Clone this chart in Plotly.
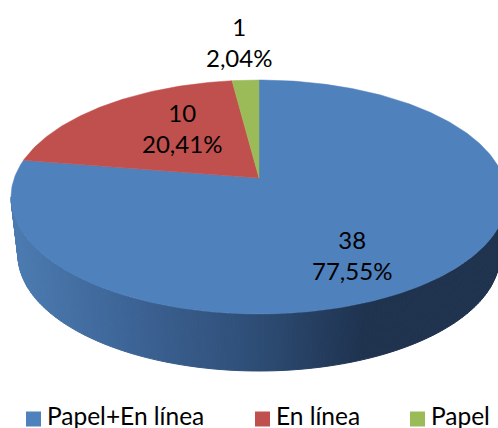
import numpy as np
import plotly.graph_objects as go

categories = ["Papel+En línea", "En línea", "Papel"]
values = [38, 10, 1]
colors = ["#4F81BD", "#C0504D", "#9BBB59"]

W, H = 498, 428
FONT = "Lato"
LABEL_SIZE = 24
LEGEND_SIZE = 24.5
LABEL_POS = [(352, 255), (182, 128), (239, 42)]
LEGEND_X = [33.5, 262.5, 417.5]
LEGEND_Y = 419

# perspective projection of the pie disc to the page
CX, CY = 259, 178
A, C, K = 244.7, 113.9, 0.1624

def project(theta):
    x, y = np.sin(theta), np.cos(theta)
    d = 1 + K * y
    return CX + A * x / d, CY - C * y / d

fig = go.Figure()

# side wall, shaded from left to right
stops = [(12, (76, 124, 178)), (130, (61, 100, 150)), (250, (47, 79, 120)),
         (365, (31, 51, 80)), (498, (32, 52, 79))]
t = np.linspace(np.pi, 0, 161)
tx, ty = 259 + 248 * np.cos(t), 197 + 117 * np.sin(t)
bx, by = 259 + 241 * np.cos(t), 255 + 116 * np.sin(t)
for i in range(len(t) - 1):
    mid = (tx[i] + tx[i + 1]) / 2
    rgb = [np.interp(mid, [s[0] for s in stops], [s[1][c] for s in stops]) for c in range(3)]
    col = "rgb(%d,%d,%d)" % tuple(rgb)
    fig.add_trace(go.Scatter(
        x=[tx[i], tx[i + 1], bx[i + 1], bx[i], tx[i]],
        y=[ty[i], ty[i + 1], by[i + 1], by[i], ty[i]],
        mode="lines", fill="toself", fillcolor=col, line=dict(color=col, width=1),
        hoverinfo="skip", showlegend=False))

# top faces
total = sum(values)
start = 0.0
for name, v, col in zip(categories, values, colors):
    end = start + v / total
    th = np.linspace(start, end, max(int(v * 8), 12)) * 2 * np.pi
    px, py = project(th)
    fig.add_trace(go.Scatter(
        x=np.r_[CX, px, CX], y=np.r_[CY, py, CY],
        mode="lines", fill="toself", fillcolor=col, line=dict(color=col, width=0.5),
        name=name, showlegend=False))
    start = end

# legend entries
for name, col, lx in zip(categories, colors, LEGEND_X):
    fig.add_trace(go.Scatter(
        x=[lx], y=[LEGEND_Y], mode="markers+text", name=name, showlegend=False,
        text=["\u2009" + name], textposition="middle right", cliponaxis=False,
        textfont=dict(family=FONT, size=LEGEND_SIZE, color="#000000"),
        marker=dict(symbol="square", size=15, color=col)))

# data labels
for v, (lx, ly) in zip(values, LABEL_POS):
    pct = f"{100 * v / total:.2f}".replace(".", ",") + "%"
    fig.add_annotation(x=lx, y=ly, text=f"{v}<br>{pct}", showarrow=False,
                       font=dict(family=FONT, size=LABEL_SIZE, color="#000000"))

fig.update_layout(
    width=W, height=H, margin=dict(l=0, r=0, t=0, b=0),
    paper_bgcolor="white", plot_bgcolor="white", showlegend=False,
    font=dict(family=FONT, size=LABEL_SIZE, color="#000000"),
    xaxis=dict(range=[0, W], visible=False, fixedrange=True),
    yaxis=dict(range=[H, 0], visible=False, fixedrange=True),
)

fig.write_html("out.html", config={"displayModeBar": False},
               post_script="document.body.style.margin='0';")
